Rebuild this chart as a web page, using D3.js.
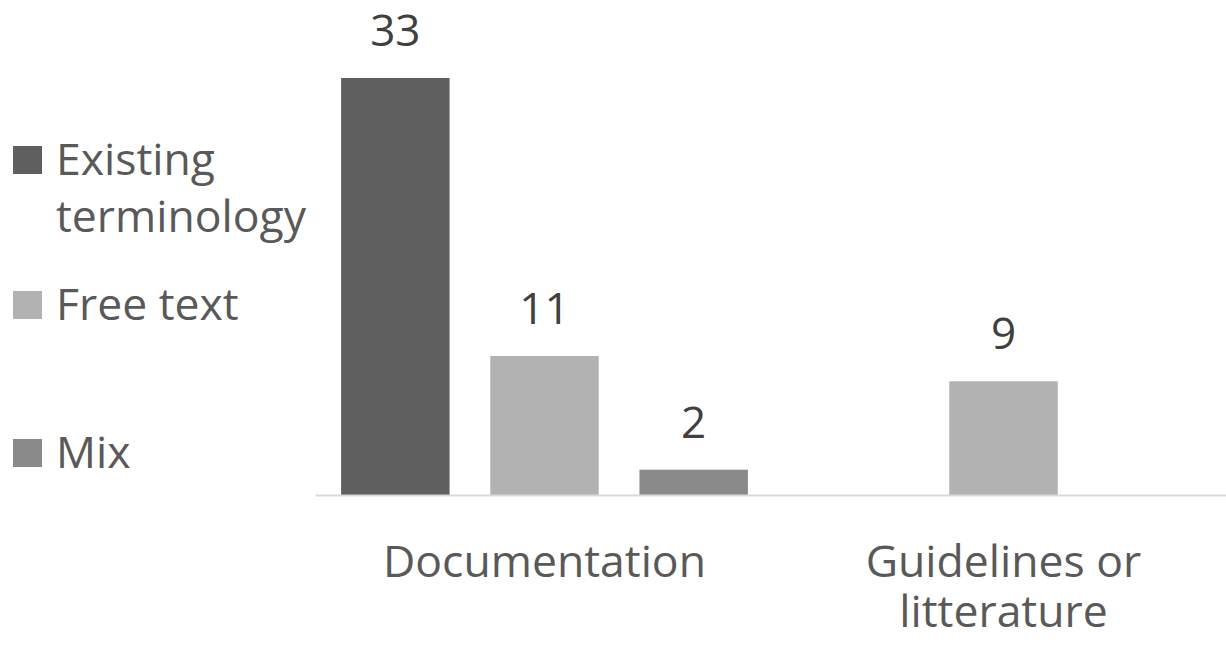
<!DOCTYPE html>
<html>
<head>
<meta charset="utf-8">
<script src="https://cdn.jsdelivr.net/npm/d3@7"></script>
<style>
  body { margin: 0; background: #fff; }
  text { font-family: "Open Sans", sans-serif; }
</style>
</head>
<body>
<div id="canvas"></div>
<script>
"use strict"

let categories = ["Documentation", "Guidelines or litterature"];
let seriesNames = ["Existing terminology", "Free text", "Mix"];
let existingValues = [33, 0];
let freeTextValues = [11, 9];
let mixValues = [2, 0];
let seriesColours = ["#5f5f5f", "#b2b2b2", "#8a8a8a"];

let drawingWidth = 1226;
let drawingHeight = 646;

let drawing = d3.select("#canvas")
    .append("svg")
    .attr("width", drawingWidth)
    .attr("height", drawingHeight);

// plot area
let plotLeft = 315;
let plotRight = 1233;
let baseline = 495;

let x = d3.scaleBand()
    .domain(categories)
    .range([plotLeft, plotRight]);

let inner = d3.scaleBand()
    .domain(seriesNames)
    .range([0, x.bandwidth()])
    .paddingInner(0.273)
    .paddingOuter(0.175);

let y = d3.scaleLinear()
    .domain([0, 33])
    .range([baseline, 78]);

let rows = [];
categories.forEach(function (c, i) {
    let vals = [existingValues[i], freeTextValues[i], mixValues[i]];
    vals.forEach(function (v, j) {
        rows.push({ category: c, series: seriesNames[j], value: v, colour: seriesColours[j] });
    });
});
let shown = rows.filter(d => d.value > 0);

/* the bars */
drawing.append("g")
    .selectAll("rect")
    .data(shown)
    .join("rect")
    .attr("x", d => x(d.category) + inner(d.series))
    .attr("y", d => y(d.value))
    .attr("width", inner.bandwidth())
    .attr("height", d => baseline - y(d.value))
    .attr("fill", d => d.colour);

/* value labels */
drawing.append("g")
    .selectAll("text")
    .data(shown)
    .join("text")
    .attr("x", d => x(d.category) + inner(d.series) + inner.bandwidth() / 2)
    .attr("y", d => y(d.value) - 32)
    .attr("text-anchor", "middle")
    .attr("font-size", 44)
    .attr("fill", "#404040")
    .text(d => d.value);

/* category axis */
let axis = drawing.append("g")
    .attr("transform", "translate(0," + baseline + ")")
    .call(d3.axisBottom(x).tickSize(0).tickFormat(""));
axis.select(".domain").attr("stroke", "#d9d9d9").attr("stroke-width", 2);

let catLines = [["Documentation"], ["Guidelines or", "litterature"]];
categories.forEach(function (c, i) {
    let t = drawing.append("text")
        .attr("x", x(c) + x.bandwidth() / 2)
        .attr("y", 577)
        .attr("text-anchor", "middle")
        .attr("font-size", 44.5)
        .attr("fill", "#595959");
    catLines[i].forEach(function (line, k) {
        t.append("tspan")
            .attr("x", x(c) + x.bandwidth() / 2)
            .attr("dy", k === 0 ? 0 : 50)
            .text(line);
    });
});

/* legend */
let legendLines = [["Existing", "terminology"], ["Free text"], ["Mix"]];
let legendBase = [175, 320, 468];
seriesNames.forEach(function (s, i) {
    drawing.append("rect")
        .attr("x", 13)
        .attr("y", legendBase[i] - 29)
        .attr("width", 29)
        .attr("height", 28)
        .attr("fill", seriesColours[i]);
    let t = drawing.append("text")
        .attr("x", 56)
        .attr("y", legendBase[i])
        .attr("font-size", 44.5)
        .attr("fill", "#595959");
    legendLines[i].forEach(function (line, k) {
        t.append("tspan")
            .attr("x", 56)
            .attr("dy", k === 0 ? 0 : 57)
            .text(line);
    });
});
</script>
</body>
</html>
